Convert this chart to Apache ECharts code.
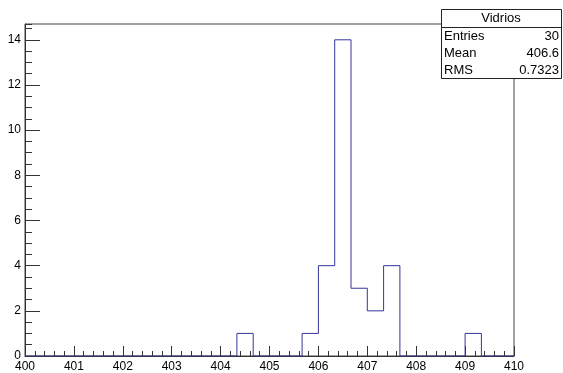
<!DOCTYPE html>
<html><head><meta charset="utf-8">
<script src="https://cdn.jsdelivr.net/npm/echarts@6/dist/echarts.min.js"></script>
<style>html,body{margin:0;padding:0;background:#fff}#c{width:563px;height:373px}</style>
</head><body><div id="c"></div>
<script>
const xMin = 400, xMax = 410, nBins = 30;
const counts = [0,0,0,0,0,0,0,0,0,0, 0,0,0,1,0,0,0,1,4,14, 3,2,4,0,0,0,0,1,0,0];
const xTicks = [400,401,402,403,404,405,406,407,408,409,410];
const yTicks = [0,2,4,6,8,10,12,14];
const statsTitle = 'Vidrios';
const statsLabels = ['Entries','Mean','RMS'];
const statsValues = ['30','406.6','0.7323'];

const binW = (xMax - xMin) / nBins;
const stepData = counts.map((c, i) => [xMin + i * binW, c]);
stepData.push([xMax, 0]);

const font = 'Liberation Sans, Arial, Helvetica, sans-serif';
const axisCol = '#333';
const chart = echarts.init(document.getElementById('c'), null, {renderer: 'canvas'});
const boxX = 441, boxY = 9, boxW = 120, boxH = 69, rowH = 17;
const graphics = [
  {type:'rect', shape:{x:boxX+0.5,y:boxY+0.5,width:boxW,height:boxH}, style:{fill:'#fff',stroke:'#222',lineWidth:1}, z:100},
  {type:'line', shape:{x1:boxX,y1:boxY+18.5,x2:boxX+boxW,y2:boxY+18.5}, style:{stroke:'#222',lineWidth:1}, z:101},
  {type:'text', x:boxX+boxW/2, y:boxY+9.5, style:{text:statsTitle, font:'13px '+font, fill:'#000', align:'center', verticalAlign:'middle'}, z:102}
];
statsLabels.forEach((l, i) => {
  const y = boxY + 18 + rowH * i + rowH / 2 + 0.5;
  graphics.push({type:'text', x:boxX+3, y:y, style:{text:l, font:'13px '+font, fill:'#000', align:'left', verticalAlign:'middle'}, z:102});
  graphics.push({type:'text', x:boxX+boxW-2, y:y, style:{text:statsValues[i], font:'13px '+font, fill:'#000', align:'right', verticalAlign:'middle'}, z:102});
});

chart.setOption({
  animation: false,
  backgroundColor: '#fff',
  grid: {left: 25, right: 49, top: 24, bottom: 16, show: true, borderColor: '#444', borderWidth: 1, backgroundColor: 'transparent'},
  xAxis: [{
    type: 'value', min: xMin, max: xMax, interval: 1, position: 'bottom',
    axisLine: {show: true, onZero: false, lineStyle: {color: axisCol}},
    axisTick: {show: true, inside: true, length: 10, lineStyle: {color: axisCol}},
    minorTick: {show: true, splitNumber: 5, length: 5, lineStyle: {color: axisCol}},
    splitLine: {show: false},
    axisLabel: {show: true, margin: 5, color: '#000', fontSize: 12, fontFamily: font,
      formatter: v => xTicks.includes(Math.round(v*1000)/1000) ? String(Math.round(v)) : ''}
  }],
  yAxis: [{
    type: 'value', min: 0, max: 14.7, interval: 2, position: 'left',
    axisLine: {show: true, onZero: false, lineStyle: {color: axisCol}},
    axisTick: {show: true, inside: true, length: 15, lineStyle: {color: axisCol}},
    splitLine: {show: false},
    axisLabel: {show: true, margin: 4, color: '#000', fontSize: 12, fontFamily: font, showMaxLabel: false,
      formatter: v => yTicks.includes(v) ? String(v) : ''}
  }, {
    type: 'value', min: 0, max: 14.7, interval: 0.5, position: 'left', offset: 0,
    axisLine: {show: false},
    axisTick: {show: true, inside: true, length: 7, lineStyle: {color: axisCol}},
    splitLine: {show: false},
    axisLabel: {show: false}
  }],
  series: [{
    type: 'line', step: 'end', data: stepData, xAxisIndex: 0, yAxisIndex: 0,
    symbol: 'none', lineStyle: {color: '#35359a', width: 1}, z: 5
  }],
  graphic: graphics
});
</script></body></html>
